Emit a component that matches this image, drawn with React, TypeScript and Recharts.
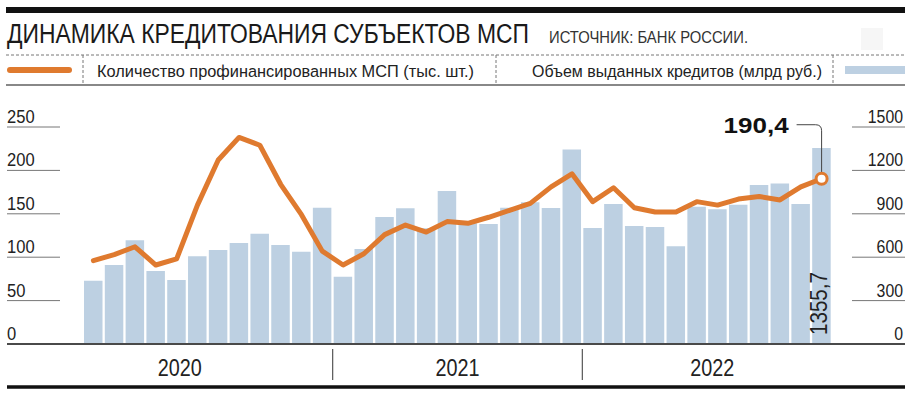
import React from "react"
import {
    ComposedChart, Bar, Line, XAxis, YAxis, LabelList,
} from "recharts"

// monthly, Jan 2020 — Dec 2022
const months = [
    "2020-01", "2020-02", "2020-03", "2020-04", "2020-05", "2020-06",
    "2020-07", "2020-08", "2020-09", "2020-10", "2020-11", "2020-12",
    "2021-01", "2021-02", "2021-03", "2021-04", "2021-05", "2021-06",
    "2021-07", "2021-08", "2021-09", "2021-10", "2021-11", "2021-12",
    "2022-01", "2022-02", "2022-03", "2022-04", "2022-05", "2022-06",
    "2022-07", "2022-08", "2022-09", "2022-10", "2022-11", "2022-12",
]

// Количество профинансированных МСП (тыс. шт.)
const smeCount = [
    96, 103, 112, 91, 98, 160, 212, 238, 229, 184, 149, 107,
    91, 104, 126, 137, 129, 141, 139, 146, 154, 162, 181, 196,
    164, 180, 157, 152, 152, 164, 160, 167, 170, 166, 181, 190.4,
]

// Объем выданных кредитов (млрд руб.)
const loanVolume = [
    437, 546, 717, 505, 442, 606, 650, 698, 762, 684, 638, 942,
    465, 657, 878, 938, 800, 1057, 835, 829, 942, 979, 940, 1345,
    802, 967, 815, 808, 675, 949, 931, 963, 1099, 1110, 967, 1355.7,
]

const leftTicks = [0, 50, 100, 150, 200, 250]
const rightTicks = [0, 300, 600, 900, 1200, 1500]
const years = ["2020", "2021", "2022"]

const data = months.map((m, i) => ({ month: m, count: smeCount[i], volume: loanVolume[i] }))

const ORANGE = "#DF7A2F"
const BLUE = "#BDD0E2"
const FONT = "'Liberation Sans', Arial, sans-serif"
const W = 912
const H = 396
const LEFT_AXIS = 76
const RIGHT_AXIS = 73
const PLOT_L = 7 + LEFT_AXIS
const PLOT_R = W - 7 - RIGHT_AXIS
const HALF_BAND = (PLOT_R - PLOT_L) / months.length / 2
const yearShift: Record<string, number> = { "2020": -28, "2021": 0, "2022": 5 }
const SQUEEZE = 0.8

const fmt = (v: number) => String(v).replace(".", ",")

// condensed-looking text: drawn wider, then squeezed horizontally
function CText({ x, y, width, size, anchor = "start", fill = "#222", weight = "normal", rotate = 0, children }: any) {
    return (
        <g transform={`translate(${x},${y}) rotate(${rotate}) scale(${SQUEEZE},1)`}>
            <text x={0} y={0} fontSize={size} fill={fill} fontWeight={weight} fontFamily={FONT}
                textAnchor={anchor} textLength={width / SQUEEZE} lengthAdjust="spacingAndGlyphs">
                {children}
            </text>
        </g>
    )
}

function LeftTick(props: any) {
    const { y, payload } = props
    const label = String(payload.value)
    const zero = payload.value === 0
    return (
        <g>
            <line x1={7} x2={zero ? PLOT_L : 60} y1={y} y2={y}
                stroke={zero ? "#4a4a4a" : "#777"} strokeWidth={zero ? 2 : 1} />
            <CText x={7} y={y - 4} size={18} width={label.length * 9.2}>{label}</CText>
        </g>
    )
}

function RightTick(props: any) {
    const { y, payload } = props
    const label = String(payload.value)
    const zero = payload.value === 0
    return (
        <g>
            <line x1={zero ? PLOT_R : 852} x2={905} y1={y} y2={y}
                stroke={zero ? "#4a4a4a" : "#777"} strokeWidth={zero ? 2 : 1} />
            <CText x={903} y={y - 4} size={18} anchor="end" width={label.length * 8.8}>{label}</CText>
        </g>
    )
}

function MonthTick(props: any) {
    const { x, index } = props
    const year = years[Math.floor(index / 12)]
    const m = index % 12
    if (m === 0 && index > 0) {
        return <line x1={x - HALF_BAND} x2={x - HALF_BAND} y1={349} y2={380} stroke="#555" strokeWidth={1.2} />
    }
    if (m === 5) {
        return (
            <CText x={x + HALF_BAND + yearShift[year]} y={376} size={24} anchor="middle" width={44}>{year}</CText>
        )
    }
    return <g />
}

function LastDot(props: any) {
    const { cx, cy, index } = props
    if (index !== smeCount.length - 1) return <g key={`d${index}`} />
    return (
        <g key={`d${index}`}>
            <path d={`M${cx - 25},${cy - 54} H${cx - 6} Q${cx},${cy - 54} ${cx},${cy - 48} V${cy - 6}`}
                fill="none" stroke="#444" strokeWidth={1} />
            <circle cx={cx} cy={cy} r={5.5} fill="#fff" stroke={ORANGE} strokeWidth={3} />
            <text x={cx - 33} y={cy - 46} fontSize={22} fontWeight="bold" fill="#111" textAnchor="end"
                fontFamily={FONT} textLength={65} lengthAdjust="spacingAndGlyphs">
                {fmt(smeCount[index])}
            </text>
        </g>
    )
}

function LastBarLabel(props: any) {
    const { x, y, width, height, index } = props
    if (index !== loanVolume.length - 1) return null
    return (
        <CText x={x + width - 4} y={y + height - 9} rotate={-90} size={23} width={63}>
            {fmt(loanVolume[index])}
        </CText>
    )
}

function Header() {
    return (
        <svg width={W} height={H} style={{ position: "absolute", left: 0, top: 0, pointerEvents: "none" }}>
            <rect x={6} y={7} width={899} height={6} fill="#111" />
            <CText x={7} y={43} size={28} fill="#1a1a1a" width={522}>ДИНАМИКА КРЕДИТОВАНИЯ СУБЪЕКТОВ МСП</CText>
            <CText x={549} y={43} size={16} fill="#333" width={199}>ИСТОЧНИК: БАНК РОССИИ.</CText>
            <rect x={861} y={28} width={22} height={22} fill="#f6f6f6" />
            <line x1={6} x2={905} y1={55} y2={55} stroke="#777" strokeDasharray="3 2" />
            {[83, 496, 833].map((x) => (
                <line key={x} x1={x} x2={x} y1={55} y2={85} stroke="#777" strokeDasharray="3 2" />
            ))}
            <line x1={10} x2={69} y1={70} y2={70} stroke={ORANGE} strokeWidth={6} strokeLinecap="round" />
            <CText x={97} y={77} size={17} width={377}>Количество профинансированных МСП (тыс. шт.)</CText>
            <CText x={532} y={77} size={17} width={290}>Объем выданных кредитов (млрд руб.)</CText>
            <rect x={845} y={66} width={60} height={8} fill={BLUE} />
            <line x1={6} x2={905} y1={85} y2={85} stroke="#888" strokeWidth={2} />
            <line x1={7} x2={905} y1={387} y2={387} stroke="#111" strokeWidth={3.5} />
        </svg>
    )
}

export default function App() {
    return (
        <div style={{ position: "absolute", left: 0, top: 0, width: W, height: H, background: "#fff" }}>
            <ComposedChart width={W} height={H} data={data}
                margin={{ top: 127, right: 7, bottom: 0, left: 7 }}>
                <XAxis dataKey="month" interval={0} height={52} tickLine={false}
                    axisLine={{ stroke: "#4a4a4a", strokeWidth: 2 }} tick={<MonthTick />} />
                <YAxis yAxisId="left" domain={[0, 250]} ticks={leftTicks} interval={0} width={LEFT_AXIS}
                    axisLine={false} tickLine={false} tick={<LeftTick />} />
                <YAxis yAxisId="right" orientation="right" domain={[0, 1500]} ticks={rightTicks} interval={0}
                    width={RIGHT_AXIS} axisLine={false} tickLine={false} tick={<RightTick />} />
                <Bar yAxisId="right" dataKey="volume" fill={BLUE} barSize={18.5} isAnimationActive={false}>
                    <LabelList dataKey="volume" content={<LastBarLabel />} />
                </Bar>
                <Line yAxisId="left" type="linear" dataKey="count" stroke={ORANGE} strokeWidth={5}
                    strokeLinejoin="round" strokeLinecap="round" dot={LastDot} activeDot={false}
                    isAnimationActive={false} />
            </ComposedChart>
            <Header />
        </div>
    )
}
